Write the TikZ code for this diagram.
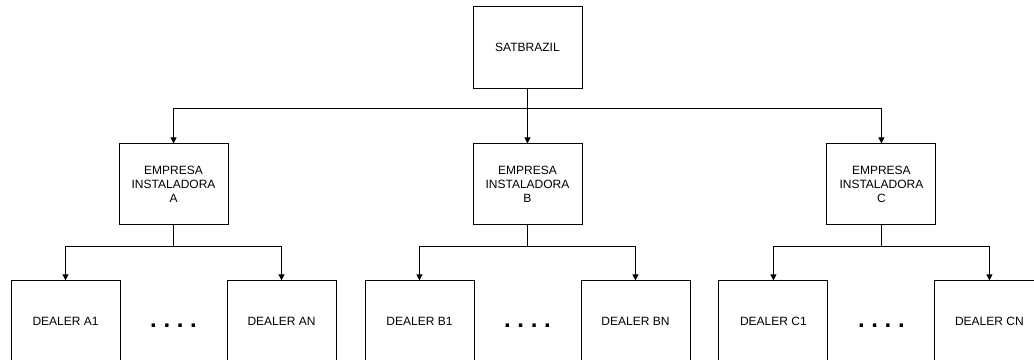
\documentclass[tikz,border=0pt]{standalone}
\usepackage{fontspec}
\setmainfont{Liberation Sans}
\usetikzlibrary{arrows.meta,positioning}

\begin{document}
\begin{tikzpicture}[>={Triangle[length=4.5pt,width=4.5pt]},node distance=41.25pt,
    caixa/.style={draw,line width=0.7pt,minimum width=81.75pt,minimum height=60.75pt,
        inner sep=0pt,align=center,font=\fontsize{9}{10.5}\selectfont},
    pontos/.style={font=\fontsize{18}{18}\bfseries\selectfont\frenchspacing,inner sep=0pt},
    liga/.style={->,line width=0.7pt}]

            \useasboundingbox (0,0) rectangle (775.5pt,-270pt);

            \node[caixa] (sat) at (395.6pt,-35.6pt) {SATBRAZIL};

            \node[caixa] (empB) [below=of sat] {EMPRESA\\INSTALADORA\\B};
            \node[caixa] (empA) [left=183pt of empB] {EMPRESA\\INSTALADORA\\A};
            \node[caixa] (empC) [right=183pt of empB] {EMPRESA\\INSTALADORA\\C};

            \node[caixa] (dA1) [below=of empA,xshift=-81pt] {DEALER A1};
            \node[caixa] (dAN) [below=of empA,xshift=81pt] {DEALER AN};
            \node[caixa] (dB1) [below=of empB,xshift=-81pt] {DEALER B1};
            \node[caixa] (dBN) [below=of empB,xshift=81pt] {DEALER BN};
            \node[caixa] (dC1) [below=of empC,xshift=-81pt] {DEALER C1};
            \node[caixa] (dCN) [below=of empC,xshift=81pt] {DEALER CN};

            \path (dA1) -- node[pontos,yshift=-3pt] (pA) {. . . .} (dAN);
            \path (dB1) -- node[pontos,yshift=-3pt] (pB) {. . . .} (dBN);
            \path (dC1) -- node[pontos,yshift=-3pt] (pC) {. . . .} (dCN);

            \draw[liga] (sat.south) -- ++(0,-15pt) -| (empA.north);
            \draw[liga] (sat.south) -- (empB.north);
            \draw[liga] (sat.south) -- ++(0,-15pt) -| (empC.north);

            \draw[liga] (empA.south) -- ++(0,-15.75pt) -| (dA1.north);
            \draw[liga] (empA.south) -- ++(0,-15.75pt) -| (dAN.north);
            \draw[liga] (empB.south) -- ++(0,-15.75pt) -| (dB1.north);
            \draw[liga] (empB.south) -- ++(0,-15.75pt) -| (dBN.north);
            \draw[liga] (empC.south) -- ++(0,-15.75pt) -| (dC1.north);
            \draw[liga] (empC.south) -- ++(0,-15.75pt) -| (dCN.north);

        \end{tikzpicture}
\end{document}
